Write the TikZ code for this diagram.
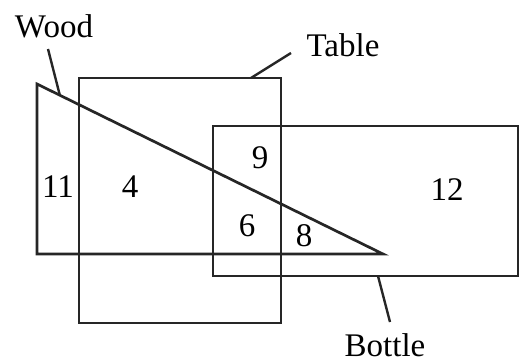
\documentclass[tikz,border=0pt]{standalone}
\usepackage{fontspec}
\setmainfont{Liberation Serif}
\usetikzlibrary{positioning,calc}
\tikzset{
  edge/.style={line width=2.7pt, black!85, line join=miter},
  lead/.style={line width=2.4pt, black!85},
  setname/.style={font=\fontsize{33}{38}\selectfont, inner sep=0pt},
  num/.style={font=\fontsize{33}{38}\selectfont, inner sep=0pt},
}
\begin{document}
\begin{tikzpicture}[x=1pt, y=-1pt]
    \useasboundingbox (0,0) rectangle (520,362);

    % wood triangle
    \coordinate (wtop)   at (37,84);
    \coordinate (wbase)  at (37,254);
    \coordinate (wtip)   at (383,254);
    \draw[edge] (wtop) -- (wbase) -- (wtip) -- cycle;

    % table and bottle rectangles
    \draw[edge] (79,78) coordinate (tnw) rectangle (281,323) coordinate (tse);
    \draw[edge] (213,126) coordinate (bnw) rectangle (518,276) coordinate (bse);

    % region counts
    \node[num] (n11) at (58,187)  {11};
    \node[num] (n4)  at (130,187) {4};
    \node[num] (n9)  at (260,158) {9};
    \node[num] (n6)  at (247,226) {6};
    \node[num] (n8)  at (304,236) {8};
    \node[num] (n12) at (447,190) {12};

    % set labels and their leaders
    \node[setname] (lwood)   at (54,26)  {Wood};
    \node[setname] (ltable)  at (343,45) {Table};
    \node[setname] (lbottle) at (385,345) {Bottle};
    \coordinate (wfoot) at ($(wtop)!0.066!(wtip)$);
    \coordinate (tfoot) at (251,78);
    \coordinate (bfoot) at (378,276);
    \draw[lead] (48,49) -- (wfoot);
    \draw[lead] (291,53) -- (tfoot);
    \draw[lead] (bfoot) -- (390,322);
  \end{tikzpicture}
\end{document}
